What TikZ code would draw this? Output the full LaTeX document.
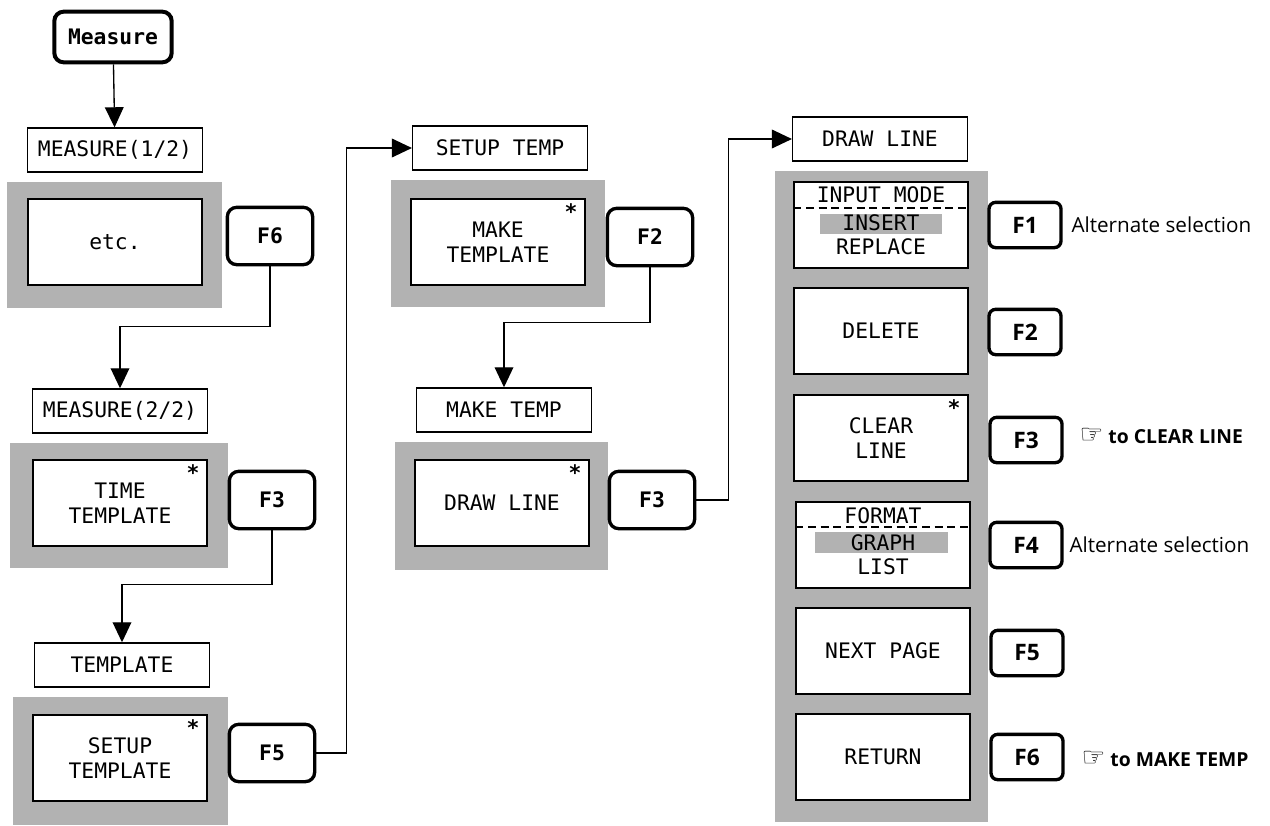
\documentclass[tikz,border=0pt]{standalone}
\usepackage{fontspec}
\setmonofont{DejaVu Sans Mono}
\setsansfont{Open Sans}
\newfontfamily\handfont{DejaVu Sans}
\usetikzlibrary{arrows.meta}

\tikzset{every picture/.style={line width=0.75pt}}
\tikzset{
  menutitle/.style={draw, line width=1.1pt, fill=white, minimum width=131pt, minimum height=33pt, inner sep=0pt, font=\ttfamily\fontsize{16}{18}\selectfont},
  menubox/.style={draw, line width=1.4pt, fill=white, minimum width=130pt, minimum height=64pt, inner sep=0pt, align=center, font=\ttfamily\fontsize{16}{19}\selectfont},
  fkey/.style={draw, line width=2.5pt, rounded corners=7pt, fill=white, minimum width=64pt, minimum height=43pt, inner sep=0pt, font=\ttfamily\bfseries\fontsize{16}{18}\selectfont},
  fkeysmall/.style={fkey, minimum width=54pt, minimum height=34pt, rounded corners=5pt, font=\sffamily\bfseries\fontsize{17}{20}\selectfont},
  halftone/.style={fill=black!30},
  asterisk/.style={inner sep=0pt, font=\ttfamily\bfseries\fontsize{16}{16}\selectfont},
  inline/.style={inner sep=0.75pt, font=\ttfamily\fontsize{16}{18}\selectfont},
  note/.style={anchor=west, inner sep=0.75pt, font=\sffamily\fontsize{15.5}{17}\selectfont},
  boldnote/.style={note, font=\sffamily\bfseries\fontsize{14.5}{17}\selectfont},
  link/.style={line width=1pt, -{Triangle[width=14pt,length=15pt]}}
}
\newcommand{\handsign}{{\handfont\mdseries\fontsize{20}{20}\selectfont ☞}}

\begin{document}
\begin{tikzpicture}[x=0.75pt,y=0.75pt,yscale=-1,xscale=1]
\useasboundingbox (0,0) rectangle (1270,825);

%Shape: Halftone backgrounds
\fill [halftone] (7,182) rectangle (222,308);
\fill [halftone] (10,443) rectangle (228,568);
\fill [halftone] (13,697) rectangle (228,825);
\fill [halftone] (391,180) rectangle (605,307);
\fill [halftone] (395,442) rectangle (608,570);
\fill [halftone] (775,171) rectangle (988,822);

% Text Node
\node [fkey, line width=3pt, minimum width=88pt, minimum height=38pt] (measure) at (113,37) {Measure};
% Text Node
\node [menutitle] (m1) at (115,150) {MEASURE(1/2)};
\node [menubox] (etc) at (115,242) {etc.};
\node [fkey] (f6) at (270,236) {F6};
% Text Node
\node [menutitle] (m2) at (120,411) {MEASURE(2/2)};
\node [menubox] (timetpl) at (120,503) {TIME\\TEMPLATE};
\node [asterisk] at ([xshift=-11pt,yshift=10pt]timetpl.north east) {*};
\node [fkey] (f3) at (272,500) {F3};
% Text Node
\node [menutitle] (tpl) at (122,665) {TEMPLATE};
\node [menubox] (setuptpl) at (120,758) {SETUP\\TEMPLATE};
\node [asterisk] at ([xshift=-11pt,yshift=10pt]setuptpl.north east) {*};
\node [fkey] (f5) at (272,753) {F5};

% Text Node
\node [menutitle] (setuptemp) at (500,148) {SETUP TEMP};
\node [menubox] (maketpl) at (498,242) {MAKE\\TEMPLATE};
\node [asterisk] at ([xshift=-11pt,yshift=10pt]maketpl.north east) {*};
\node [fkey] (f2) at (650,237) {F2};
% Text Node
\node [menutitle] (maketemp) at (504,410) {MAKE TEMP};
\node [menubox] (drawln) at (502,503) {DRAW LINE};
\node [asterisk] at ([xshift=-11pt,yshift=10pt]drawln.north east) {*};
\node [fkey] (f3b) at (652,500) {F3};

% Text Node
\node [menutitle] (drawline) at (880,139) {DRAW LINE};
\node [menubox] (input) at (881,225) {};
\fill [halftone] (820,214) rectangle (942,234);
\node [inline] (inmode) at (881,195) {INPUT MODE};
\node [inline] (insert) at (881,223) {INSERT};
\node [inline] (replace) at (881,247) {REPLACE};
\draw [line width=1.2pt, dash pattern={on 6pt off 3.5pt}] (input.west |- 0,208) -- (input.east |- 0,208);
\node [fkeysmall] (k1) at (1025,225) {F1};
\node [note] (alt1) at (1070,225) {Alternate selection};

\node [menubox] (delete) at (881,331) {DELETE};
\node [fkeysmall] (k2) at (1025,332) {F2};

\node [menubox] (clear) at (881,438) {CLEAR\\LINE};
\node [asterisk] at ([xshift=-11pt,yshift=10pt]clear.north east) {*};
\node [fkeysmall] (k3) at (1026,440) {F3};
\node [boldnote] (goclear) at (1078,436) {\handsign\ to CLEAR LINE};

\node [menubox] (format) at (883,545) {};
\fill [halftone] (815,532) rectangle (948,553);
\node [inline] (fmt) at (883,516) {FORMAT};
\node [inline] (graph) at (883,543) {GRAPH};
\node [inline] (list) at (883,567) {LIST};
\draw [line width=1.2pt, dash pattern={on 6pt off 3.5pt}] (format.west |- 0,527) -- (format.east |- 0,527);
\node [fkeysmall] (k4) at (1026,545) {F4};
\node [note] (alt2) at (1068,545) {Alternate selection};

\node [menubox] (nextpage) at (883,651) {NEXT PAGE};
\node [fkeysmall] (k5) at (1027,653) {F5};

\node [menubox] (return) at (883,757) {RETURN};
\node [fkeysmall] (k6) at (1027,757) {F6};
\node [boldnote] (gomake) at (1080,759) {\handsign\ to MAKE TEMP};

%Straight Lines
\draw [link] (measure) -- (m1);
%Straight Lines
\draw [link] (f6.south) -- ++(0,60) -| (m2.north);
%Straight Lines
\draw [link] (f3.south) -- ++(0,54) -| (tpl.north);
%Straight Lines
\draw [link] (f5.east) -- ++(30,0) |- (setuptemp.west);
%Straight Lines
\draw [link] (f2.south) -- ++(0,55) -| (maketemp.north);
%Straight Lines
\draw [link] (f3b.east) -- ++(32,0) |- (drawline.west);

\end{tikzpicture}
\end{document}
